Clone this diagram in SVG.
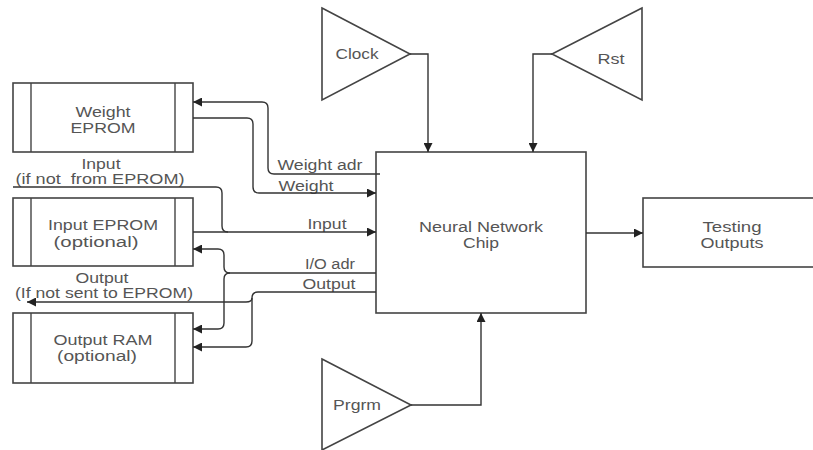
<svg xmlns="http://www.w3.org/2000/svg" width="813" height="450" viewBox="0 0 813 450">
  <style>
    .box { fill: #fff; stroke: #444; stroke-width: 1.6; }
    .bar { fill: none; stroke: #444; stroke-width: 1.4; }
    .wire { fill: none; stroke: #333; stroke-width: 1.4; }
    .lbl { font-family: "Liberation Sans", Arial, sans-serif; font-size: 14px; fill: #555; text-anchor: middle; dominant-baseline: central; }
    .pre { white-space: pre; }
  </style>
  <defs>
    <marker id="arrow" viewBox="0 0 10 10" refX="10" refY="5" markerWidth="10" markerHeight="9" markerUnits="userSpaceOnUse" orient="auto">
      <path d="M0,0 L10,5 L0,10 z" fill="#222"/>
    </marker>
  </defs>
  <rect width="813" height="450" fill="#fff"/>

  <!-- memories -->
  <g id="weight-eprom">
    <rect class="box" x="13" y="83" width="180" height="69"/>
    <line class="bar" x1="31" y1="83" x2="31" y2="152"/>
    <line class="bar" x1="175" y1="83" x2="175" y2="152"/>
    <text class="lbl" x="103" y="112" textLength="55" lengthAdjust="spacingAndGlyphs">Weight</text>
    <text class="lbl" x="103" y="128" textLength="65" lengthAdjust="spacingAndGlyphs">EPROM</text>
  </g>
  <g id="input-eprom">
    <rect class="box" x="13" y="198" width="180" height="68"/>
    <line class="bar" x1="31" y1="198" x2="31" y2="266"/>
    <line class="bar" x1="175" y1="198" x2="175" y2="266"/>
    <text class="lbl" x="103" y="225" textLength="110" lengthAdjust="spacingAndGlyphs">Input EPROM</text>
    <text class="lbl" x="96" y="242" textLength="85" lengthAdjust="spacingAndGlyphs">(optional)</text>
  </g>
  <g id="output-ram">
    <rect class="box" x="13" y="313" width="180" height="70"/>
    <line class="bar" x1="31" y1="313" x2="31" y2="383"/>
    <line class="bar" x1="175" y1="313" x2="175" y2="383"/>
    <text class="lbl" x="103" y="340" textLength="99" lengthAdjust="spacingAndGlyphs">Output RAM</text>
    <text class="lbl" x="97" y="356" textLength="80" lengthAdjust="spacingAndGlyphs">(optional)</text>
  </g>

  <!-- core -->
  <g id="chip">
    <rect class="box" x="376" y="152" width="210" height="161"/>
    <text class="lbl" x="481" y="227" textLength="124" lengthAdjust="spacingAndGlyphs">Neural Network</text>
    <text class="lbl" x="481" y="243" textLength="36" lengthAdjust="spacingAndGlyphs">Chip</text>
  </g>
  <g id="testing-outputs">
    <rect class="box" x="643" y="198" width="200" height="69"/>
    <text class="lbl" x="732" y="227" textLength="59" lengthAdjust="spacingAndGlyphs">Testing</text>
    <text class="lbl" x="732" y="243" textLength="63" lengthAdjust="spacingAndGlyphs">Outputs</text>
  </g>

  <!-- signal sources -->
  <g id="clock">
    <path class="box" d="M322,8 L410,54 L322,100 Z"/>
    <text class="lbl" x="357" y="54" textLength="43" lengthAdjust="spacingAndGlyphs">Clock</text>
  </g>
  <g id="rst">
    <path class="box" d="M642,8 L552,54 L642,100 Z"/>
    <text class="lbl" x="611" y="59" textLength="27" lengthAdjust="spacingAndGlyphs">Rst</text>
  </g>
  <g id="prgrm">
    <path class="box" d="M322,359 L411,405 L322,450 Z"/>
    <text class="lbl" x="357" y="405" textLength="48" lengthAdjust="spacingAndGlyphs">Prgrm</text>
  </g>

  <!-- free labels -->
  <g id="labels">
    <text class="lbl" x="101" y="164" textLength="39" lengthAdjust="spacingAndGlyphs">Input</text>
    <text class="lbl pre" x="100" y="179" textLength="169" lengthAdjust="spacingAndGlyphs">(if not  from EPROM)</text>
    <text class="lbl" x="102" y="278" textLength="53" lengthAdjust="spacingAndGlyphs">Output</text>
    <text class="lbl" x="104" y="293" textLength="178" lengthAdjust="spacingAndGlyphs">(If not sent to EPROM)</text>
    <text class="lbl" x="320" y="165" textLength="85" lengthAdjust="spacingAndGlyphs">Weight adr</text>
    <text class="lbl" x="306" y="186" textLength="55" lengthAdjust="spacingAndGlyphs">Weight</text>
    <text class="lbl" x="327" y="224" textLength="39" lengthAdjust="spacingAndGlyphs">Input</text>
    <text class="lbl" x="330" y="264" textLength="50" lengthAdjust="spacingAndGlyphs">I/O adr</text>
    <text class="lbl" x="329" y="284" textLength="53" lengthAdjust="spacingAndGlyphs">Output</text>
  </g>

  <!-- connectors -->
  <g id="connectors">
    <path class="wire" d="M410,54 H428 V152" marker-end="url(#arrow)"/>
    <path class="wire" d="M552,54 H533 V152" marker-end="url(#arrow)"/>
    <path class="wire" d="M411,405 H481 V313" marker-end="url(#arrow)"/>
    <path class="wire" d="M586,233 H643" marker-end="url(#arrow)"/>
    <!-- weight address / data -->
    <path class="wire" d="M380,174 H274 Q268,174 268,168 V108 Q268,102 262,102 H193" marker-end="url(#arrow)"/>
    <path class="wire" d="M193,118 H247 Q253,118 253,124 V187 Q253,193 259,193 H376" marker-end="url(#arrow)"/>
    <!-- input -->
    <path class="wire" d="M13,187 H216 Q222,187 222,193 V226 Q222,232 228,232"/>
    <path class="wire" d="M193,232 H376" marker-end="url(#arrow)"/>
    <!-- I/O address -->
    <path class="wire" d="M376,273 H230 Q224,273 224,267 V255 Q224,249 218,249 H193" marker-end="url(#arrow)"/>
    <path class="wire" d="M230,273 Q224,273 224,279 V323 Q224,329 218,329 H193" marker-end="url(#arrow)"/>
    <!-- output -->
    <path class="wire" d="M376,292 H258 Q252,292 252,298 V341 Q252,347 246,347 H193" marker-end="url(#arrow)"/>
    <path class="wire" d="M252,298 Q252,302 246,302 H27" marker-end="url(#arrow)"/>
  </g>
</svg>
